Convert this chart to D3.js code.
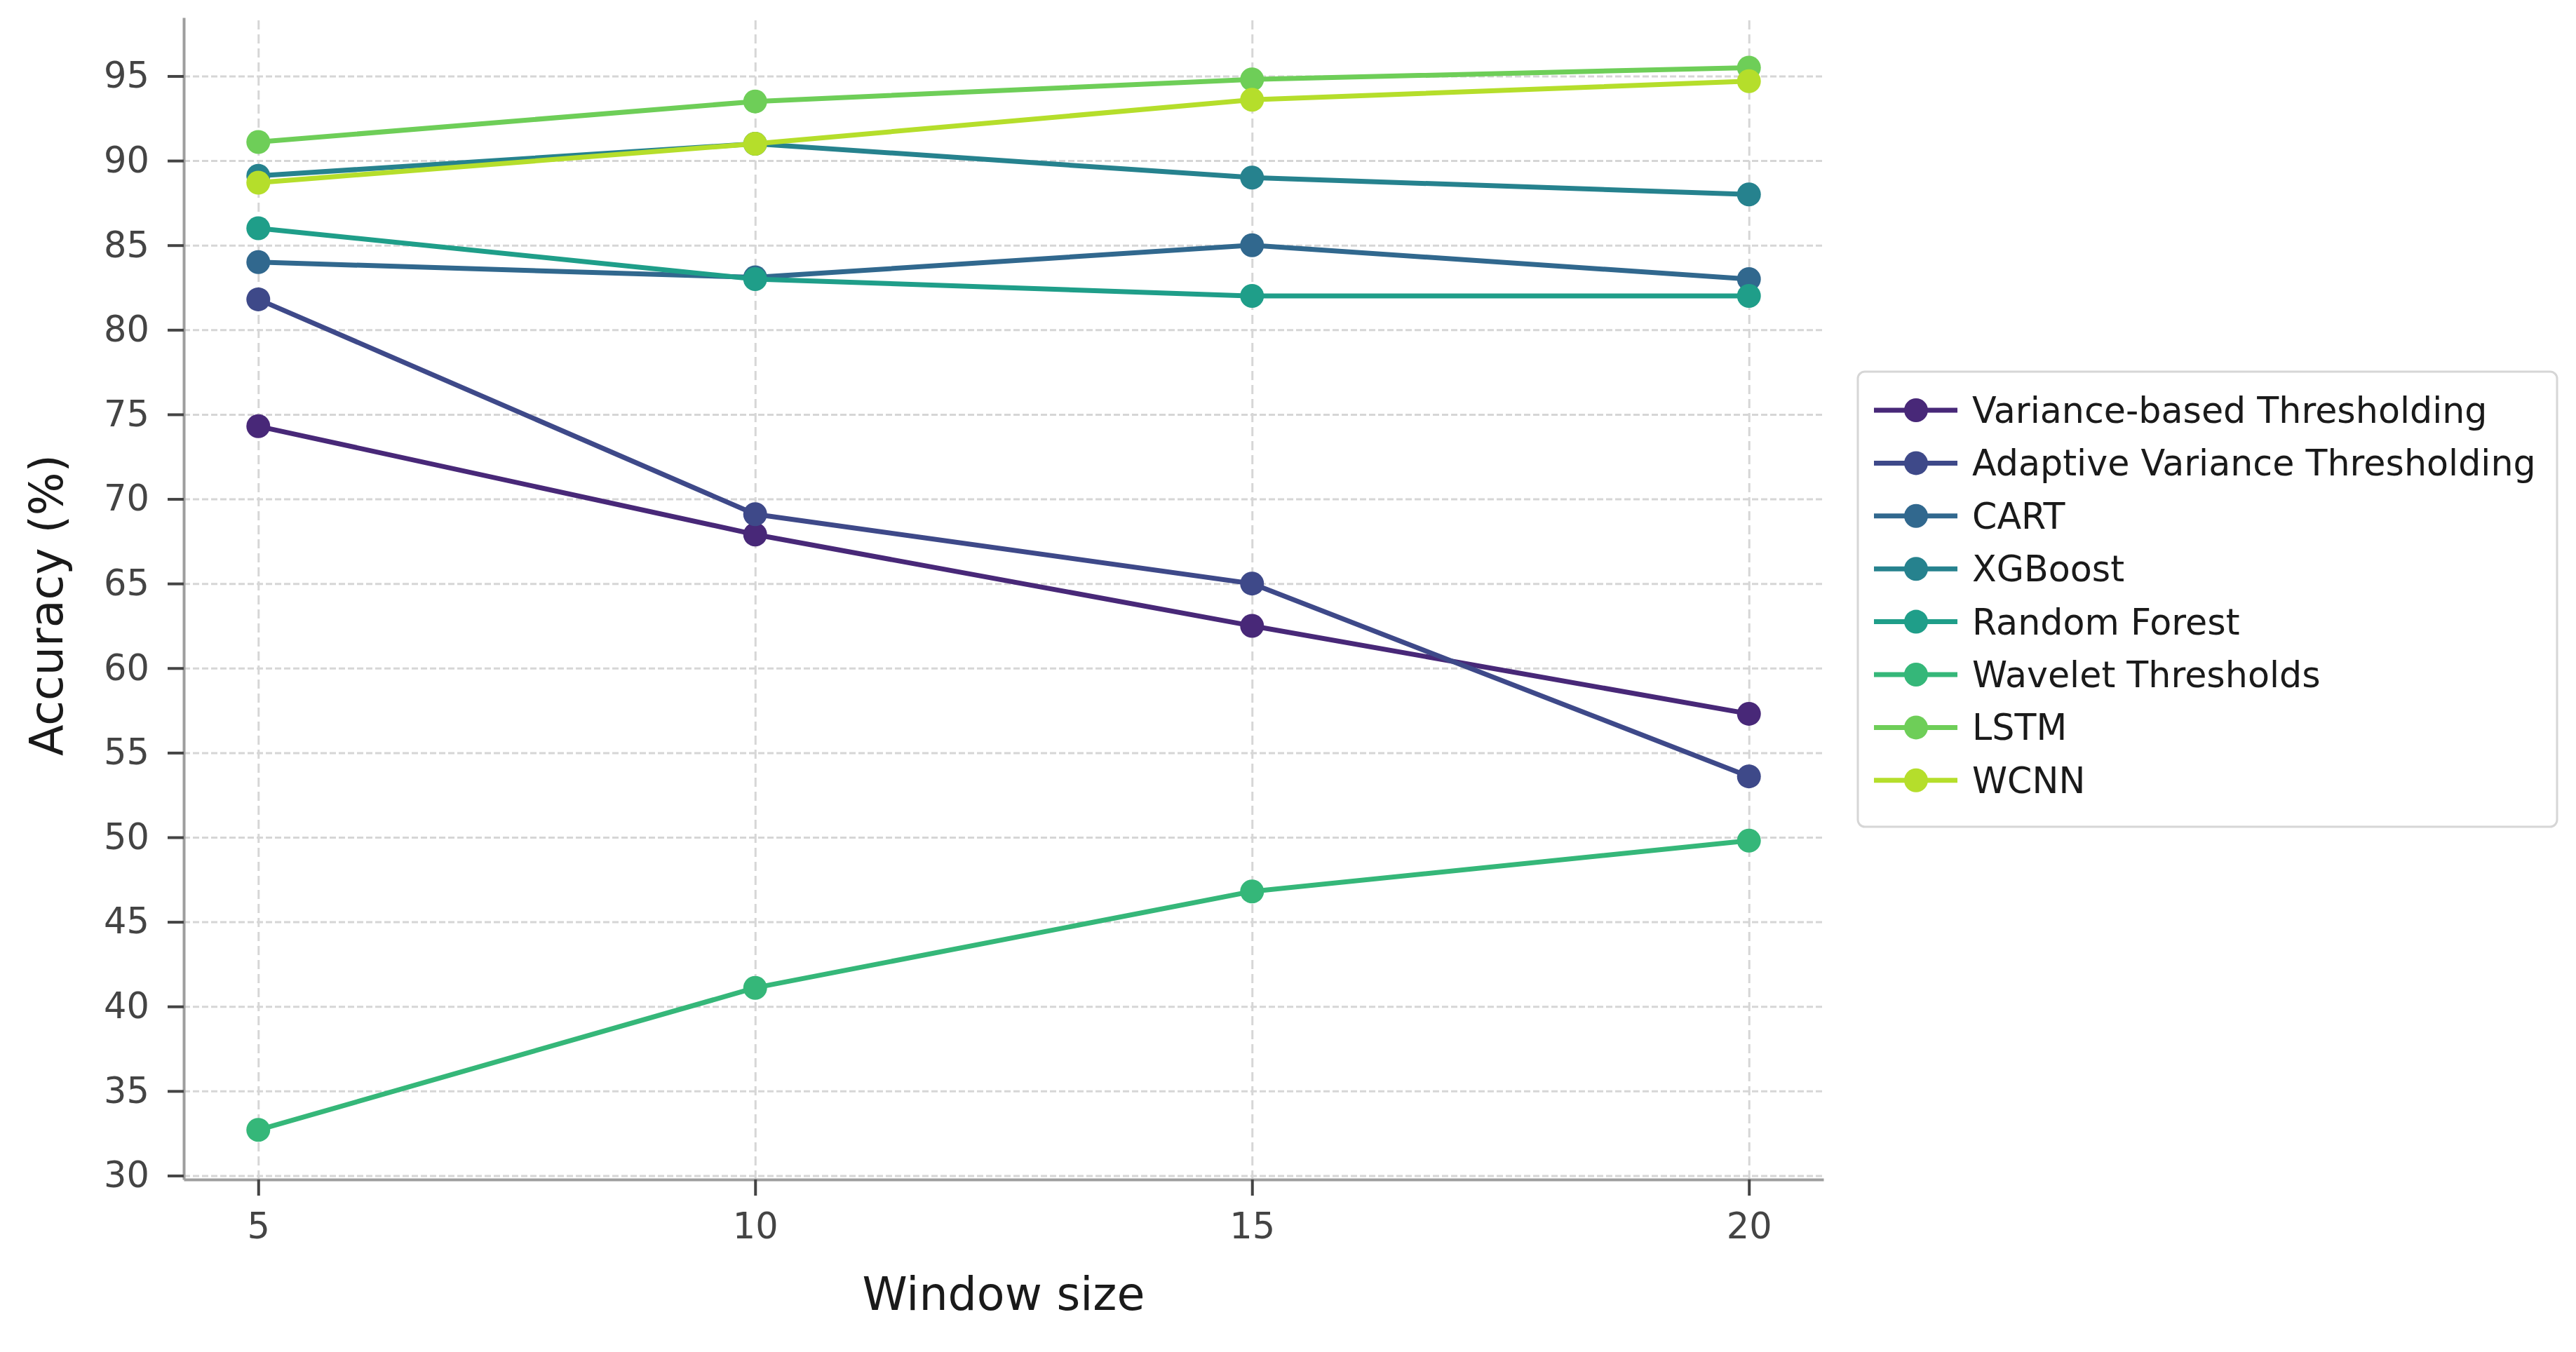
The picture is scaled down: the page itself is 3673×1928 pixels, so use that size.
<!DOCTYPE html>
<html>
<head>
<meta charset="utf-8">
<script src="https://cdn.jsdelivr.net/npm/d3@7"></script>
<style>
  body { margin: 0; background: #ffffff; }
  text { font-family: "DejaVu Sans", sans-serif; }
</style>
</head>
<body>
<div id="chart"></div>
<script>
// data
var windowSizes = [5, 10, 15, 20];
var methods = [
  "Variance-based Thresholding",
  "Adaptive Variance Thresholding",
  "CART",
  "XGBoost",
  "Random Forest",
  "Wavelet Thresholds",
  "LSTM",
  "WCNN"
];
var varianceAcc = [74.3, 67.9, 62.5, 57.3];
var adaptiveAcc = [81.8, 69.1, 65.0, 53.6];
var cartAcc = [84.0, 83.1, 85.0, 83.0];
var xgboostAcc = [89.1, 91.0, 89.0, 88.0];
var forestAcc = [86.0, 83.0, 82.0, 82.0];
var waveletAcc = [32.7, 41.1, 46.8, 49.8];
var lstmAcc = [91.1, 93.5, 94.8, 95.5];
var wcnnAcc = [88.7, 91.0, 93.6, 94.7];
var yTicks = [30, 35, 40, 45, 50, 55, 60, 65, 70, 75, 80, 85, 90, 95];

var allAcc = [varianceAcc, adaptiveAcc, cartAcc, xgboostAcc, forestAcc, waveletAcc, lstmAcc, wcnnAcc];
var series = methods.map(function(name, i) {
  return { name: name, values: windowSizes.map(function(w, j) { return { w: w, acc: allAcc[i][j] }; }) };
});

var svgWidth = 3673;
var svgHeight = 1928;

var margin = { top: 25, right: 1073, bottom: 246, left: 262 };
var width = svgWidth - margin.left - margin.right;
var height = svgHeight - margin.top - margin.bottom;

var svg = d3.select("#chart")
  .append("svg")
  .attr("width", svgWidth)
  .attr("height", svgHeight);

svg.append("rect").attr("width", svgWidth).attr("height", svgHeight).attr("fill", "#ffffff");

var chartGroup = svg.append("g")
  .attr("transform", `translate(${margin.left}, ${margin.top})`);

var xScale = d3.scaleLinear().domain([4.25, 20.75]).range([0, width]);
var yScale = d3.scaleLinear().domain([29.77, 98.46]).range([height, 0]);

// viridis, sampled like seaborn's palette (8 colours)
var color = d3.scaleOrdinal()
  .domain(methods)
  .range(methods.map(function(m, i) { return d3.interpolateViridis((i + 1) / 9); }));

// grid
var yGrid = chartGroup.append("g")
  .call(d3.axisLeft(yScale).tickValues(yTicks).tickSize(-width).tickFormat(""));
yGrid.select(".domain").remove();
yGrid.selectAll("line")
  .attr("stroke", "#d6d6d6")
  .attr("stroke-width", 3)
  .attr("stroke-dasharray", "9,4");

var xGrid = chartGroup.append("g")
  .attr("transform", `translate(0, ${height})`)
  .call(d3.axisBottom(xScale).tickValues(windowSizes).tickSize(-height).tickFormat(""));
xGrid.select(".domain").remove();
xGrid.selectAll("line")
  .attr("stroke", "#d6d6d6")
  .attr("stroke-width", 3)
  .attr("stroke-dasharray", "13,7");

// lines and markers
var line = d3.line()
  .x(d => xScale(d.w))
  .y(d => yScale(d.acc));

series.forEach(function(s) {
  var g = chartGroup.append("g");
  g.append("path")
    .datum(s.values)
    .attr("d", line)
    .attr("fill", "none")
    .attr("stroke", color(s.name))
    .attr("stroke-width", 7)
    .attr("stroke-linejoin", "round");
  g.selectAll("circle")
    .data(s.values)
    .enter()
    .append("circle")
    .attr("cx", d => xScale(d.w))
    .attr("cy", d => yScale(d.acc))
    .attr("r", 17)
    .attr("fill", color(s.name));
});

// axes
var leftAxis = chartGroup.append("g")
  .call(d3.axisLeft(yScale).tickValues(yTicks).tickSize(23).tickSizeOuter(0).tickPadding(26));
var bottomAxis = chartGroup.append("g")
  .attr("transform", `translate(0, ${height})`)
  .call(d3.axisBottom(xScale).tickValues(windowSizes).tickSize(23).tickSizeOuter(0).tickPadding(25));

[leftAxis, bottomAxis].forEach(function(ax) {
  ax.select(".domain").attr("stroke", "#9e9e9e").attr("stroke-width", 4);
  ax.selectAll(".tick line").attr("stroke", "#444444").attr("stroke-width", 4);
  ax.selectAll(".tick text")
    .attr("fill", "#444444")
    .style("font-size", "51px")
    .style("font-family", "DejaVu Sans");
});

// axis labels
chartGroup.append("text")
  .attr("x", width / 2)
  .attr("y", height + 186)
  .attr("text-anchor", "middle")
  .attr("fill", "#1a1a1a")
  .style("font-size", "65px")
  .text("Window size");

chartGroup.append("text")
  .attr("transform", "rotate(-90)")
  .attr("x", -(863 - margin.top))
  .attr("y", 89 - margin.left)
  .attr("text-anchor", "middle")
  .attr("fill", "#1a1a1a")
  .style("font-size", "65px")
  .text("Accuracy (%)");

// legend
var legend = svg.append("g").attr("transform", "translate(2649, 530)");
legend.append("rect")
  .attr("width", 997)
  .attr("height", 649)
  .attr("rx", 10)
  .attr("fill", "#ffffff")
  .attr("stroke", "#d6d6d6")
  .attr("stroke-width", 3);

var rows = legend.selectAll("g.row")
  .data(methods)
  .enter()
  .append("g")
  .attr("class", "row")
  .attr("transform", (d, i) => `translate(0, ${55 + i * 75.4})`);

rows.append("line")
  .attr("x1", 23).attr("x2", 142)
  .attr("stroke", d => color(d))
  .attr("stroke-width", 7);
rows.append("circle")
  .attr("cx", 83)
  .attr("r", 17)
  .attr("fill", d => color(d));
rows.append("text")
  .attr("x", 163)
  .attr("y", 18)
  .attr("fill", "#1a1a1a")
  .style("font-size", "50.7px")
  .text(d => d);
</script>
</body>
</html>
